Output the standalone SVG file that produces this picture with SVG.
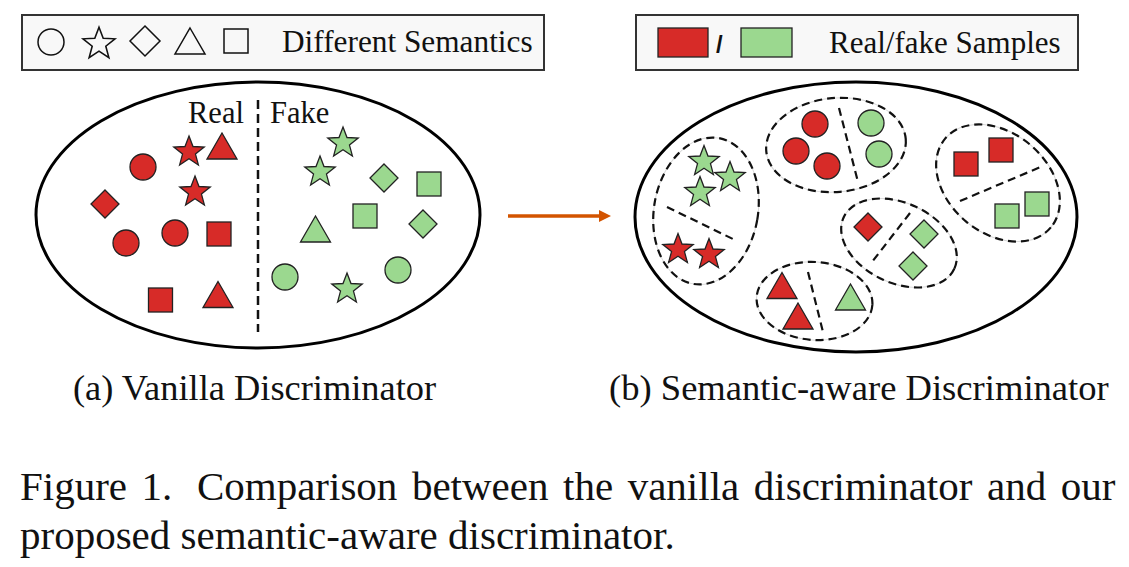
<svg xmlns="http://www.w3.org/2000/svg" xmlns:xlink="http://www.w3.org/1999/xlink" width="1129" height="567" viewBox="0 0 1129 567">
<style>
  .bg { fill: #ffffff; }
  .legend { fill: #f8f8f8; stroke: #333333; stroke-width: 2; }
  .icon { fill: none; stroke: #111111; stroke-width: 1.5; }
  .r { fill: #d72b28; stroke: #222222; stroke-width: 1.3; }
  .g { fill: #9bd88f; stroke: #222222; stroke-width: 1.3; }
  .main { fill: #ffffff; stroke: #000000; stroke-width: 3; }
  .grp { fill: none; stroke: #111111; stroke-width: 2.2; stroke-dasharray: 8 5; }
  .grpbase { fill: none; stroke: #d8d8d8; stroke-width: 1; }
  .div { fill: none; stroke: #111111; stroke-width: 2.2; stroke-dasharray: 8 5; }
  .vdiv { fill: none; stroke: #111111; stroke-width: 2.5; stroke-dasharray: 9 5; }
  .t { font-family: "Liberation Serif", "Times New Roman", serif; fill: #111111; }
  .arrow { stroke: #d35400; stroke-width: 3.5; fill: none; }
</style>
<defs>
  <path id="star" d="M0,-16 L4,-5.5 L15.22,-4.94 L6.47,2.1 L9.4,12.94 L0,6.8 L-9.4,12.94 L-6.47,2.1 L-15.22,-4.94 L-4,-5.5 Z"/>
  <path id="tri" d="M0,-13 L15,13 L-15,13 Z"/>
  <path id="dia" d="M0,-14 L14,0 L0,14 L-14,0 Z"/>
  <rect id="sq" x="-12" y="-12" width="24" height="24"/>
  <circle id="cir" cx="0" cy="0" r="13"/>
  <marker id="ah" markerWidth="12" markerHeight="12" refX="1" refY="6" orient="auto" markerUnits="userSpaceOnUse" viewBox="0 0 12 12">
    <path d="M0,0 L12,6 L0,12 Z" fill="#d35400"/>
  </marker>
</defs>
<rect class="bg" x="0" y="0" width="1129" height="567"/>

<g id="legend-semantics">
  <rect class="legend" x="22" y="15" width="522" height="55"/>
  <circle class="icon" cx="51" cy="42" r="13"/>
  <use class="icon" href="#star" xlink:href="#star" transform="translate(99,44) scale(1.05)"/>
  <path class="icon" d="M145,26 L160,41 L145,56 L130,41 Z"/>
  <path class="icon" d="M190,28 L205,54 L175,54 Z"/>
  <rect class="icon" x="224" y="29" width="24" height="24"/>
  <text class="t" x="282" y="52" font-size="31.3">Different Semantics</text>
</g>

<g id="legend-samples">
  <rect class="legend" x="636" y="15" width="442" height="55"/>
  <rect class="r" x="658" y="28" width="50" height="29"/>
  <text x="716" y="53" font-size="24" font-weight="bold" font-family="Liberation Sans, Arial, sans-serif" fill="#111111">/</text>
  <rect class="g" x="741" y="28" width="51" height="29"/>
  <text class="t" x="829" y="53" font-size="31">Real/fake Samples</text>
</g>

<g id="vanilla-discriminator">
  <ellipse class="main" cx="258" cy="215" rx="222" ry="133"/>
  <line class="vdiv" x1="258" y1="100" x2="258" y2="332"/>
  <text class="t" x="188" y="123" font-size="30.5">Real</text>
  <text class="t" x="270" y="123" font-size="30.5">Fake</text>
  <g id="real-samples">
    <use class="r" href="#star" xlink:href="#star" transform="translate(189,152)"/>
    <use class="r" href="#tri" xlink:href="#tri" transform="translate(222,146)"/>
    <use class="r" href="#cir" xlink:href="#cir" transform="translate(143,167)"/>
    <use class="r" href="#star" xlink:href="#star" transform="translate(195,192)"/>
    <use class="r" href="#dia" xlink:href="#dia" transform="translate(105,204)"/>
    <use class="r" href="#cir" xlink:href="#cir" transform="translate(126,243)"/>
    <use class="r" href="#cir" xlink:href="#cir" transform="translate(175,233)"/>
    <use class="r" href="#sq" xlink:href="#sq" transform="translate(219,234)"/>
    <use class="r" href="#sq" xlink:href="#sq" transform="translate(160.5,300)"/>
    <use class="r" href="#tri" xlink:href="#tri" transform="translate(218,294.5)"/>
  </g>
  <g id="fake-samples">
    <use class="g" href="#star" xlink:href="#star" transform="translate(343,143)"/>
    <use class="g" href="#star" xlink:href="#star" transform="translate(320,172)"/>
    <use class="g" href="#dia" xlink:href="#dia" transform="translate(384,178)"/>
    <use class="g" href="#sq" xlink:href="#sq" transform="translate(429,184)"/>
    <use class="g" href="#sq" xlink:href="#sq" transform="translate(365,216)"/>
    <use class="g" href="#dia" xlink:href="#dia" transform="translate(423,224)"/>
    <use class="g" href="#tri" xlink:href="#tri" transform="translate(315.5,229)"/>
    <use class="g" href="#cir" xlink:href="#cir" transform="translate(285,277)"/>
    <use class="g" href="#star" xlink:href="#star" transform="translate(347,289)"/>
    <use class="g" href="#cir" xlink:href="#cir" transform="translate(398,270)"/>
  </g>
</g>

<g id="semantic-aware-discriminator">
  <ellipse class="main" cx="856" cy="217" rx="221" ry="135"/>

  <g id="cluster-stars">
    <ellipse class="grpbase" cx="0" cy="0" rx="52" ry="74" transform="translate(706,211) rotate(10)"/>
    <ellipse class="grp" cx="0" cy="0" rx="52" ry="74" transform="translate(706,211) rotate(10)"/>
    <line class="div" x1="667" y1="207" x2="735" y2="240"/>
    <use class="g" href="#star" xlink:href="#star" transform="translate(704,161.5)"/>
    <use class="g" href="#star" xlink:href="#star" transform="translate(730,177.5)"/>
    <use class="g" href="#star" xlink:href="#star" transform="translate(700,192.5)"/>
    <use class="r" href="#star" xlink:href="#star" transform="translate(678,249.5)"/>
    <use class="r" href="#star" xlink:href="#star" transform="translate(709,254.5)"/>
  </g>

  <g id="cluster-circles">
    <ellipse class="grpbase" cx="0" cy="0" rx="70" ry="47" transform="translate(836,145) rotate(-5)"/>
    <ellipse class="grp" cx="0" cy="0" rx="70" ry="47" transform="translate(836,145) rotate(-5)"/>
    <line class="div" x1="839" y1="108" x2="858" y2="182"/>
    <use class="r" href="#cir" xlink:href="#cir" transform="translate(815,124)"/>
    <use class="r" href="#cir" xlink:href="#cir" transform="translate(796,151)"/>
    <use class="r" href="#cir" xlink:href="#cir" transform="translate(827,166)"/>
    <use class="g" href="#cir" xlink:href="#cir" transform="translate(871,123)"/>
    <use class="g" href="#cir" xlink:href="#cir" transform="translate(879,154)"/>
  </g>

  <g id="cluster-diamonds">
    <ellipse class="grpbase" cx="0" cy="0" rx="61" ry="40" transform="translate(899,243) rotate(25)"/>
    <ellipse class="grp" cx="0" cy="0" rx="61" ry="40" transform="translate(899,243) rotate(25)"/>
    <line class="div" x1="910" y1="213" x2="872" y2="262"/>
    <use class="r" href="#dia" xlink:href="#dia" transform="translate(868,227)"/>
    <use class="g" href="#dia" xlink:href="#dia" transform="translate(924,234)"/>
    <use class="g" href="#dia" xlink:href="#dia" transform="translate(913,266)"/>
  </g>

  <g id="cluster-squares">
    <ellipse class="grpbase" cx="0" cy="0" rx="69" ry="50" transform="translate(998,183) rotate(40)"/>
    <ellipse class="grp" cx="0" cy="0" rx="69" ry="50" transform="translate(998,183) rotate(40)"/>
    <line class="div" x1="960" y1="201" x2="1043" y2="166"/>
    <use class="r" href="#sq" xlink:href="#sq" transform="translate(966,164)"/>
    <use class="r" href="#sq" xlink:href="#sq" transform="translate(1001,150)"/>
    <use class="g" href="#sq" xlink:href="#sq" transform="translate(1007,216)"/>
    <use class="g" href="#sq" xlink:href="#sq" transform="translate(1037,204)"/>
  </g>

  <g id="cluster-triangles">
    <ellipse class="grpbase" cx="0" cy="0" rx="58" ry="39" transform="translate(814.5,301) rotate(4)"/>
    <ellipse class="grp" cx="0" cy="0" rx="58" ry="39" transform="translate(814.5,301) rotate(4)"/>
    <line class="div" x1="808" y1="272" x2="823" y2="332"/>
    <use class="r" href="#tri" xlink:href="#tri" transform="translate(782,285.5)"/>
    <use class="r" href="#tri" xlink:href="#tri" transform="translate(798,316)"/>
    <use class="g" href="#tri" xlink:href="#tri" transform="translate(850.5,297)"/>
  </g>
</g>

<g id="connectors">
  <line class="arrow" x1="508" y1="216" x2="600" y2="216" marker-end="url(#ah)"/>
</g>

<g id="labels">
  <text class="t" x="73" y="400" font-size="36.4">(a) Vanilla Discriminator</text>
  <text class="t" x="609" y="400" font-size="36.6">(b) Semantic-aware Discriminator</text>
  <text class="t" x="20" y="500" font-size="41" word-spacing="4.3">Figure 1. <tspan dx="10">Comparison between the vanilla discriminator and our</tspan></text>
  <text class="t" x="20" y="549" font-size="41">proposed semantic-aware discriminator.</text>
</g>
</svg>
